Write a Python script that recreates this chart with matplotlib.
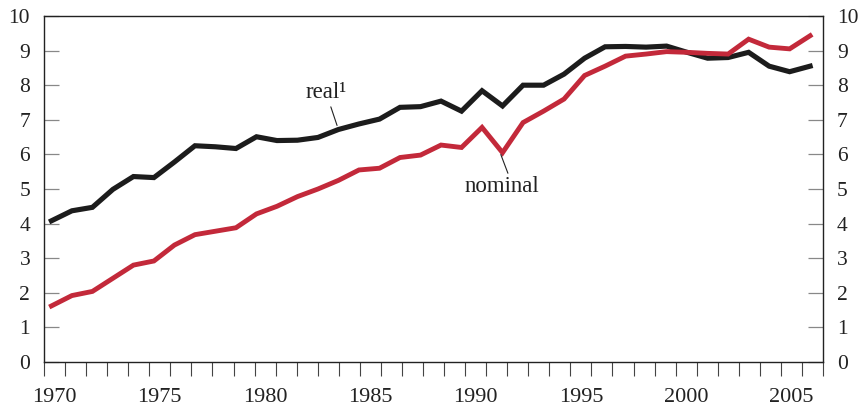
import matplotlib
matplotlib.use('Agg')
import matplotlib.pyplot as plt
import numpy as np

plt.rcParams['font.family'] = ['Liberation Serif', 'DejaVu Serif']

years = list(range(1970, 2008))
real = [4.08, 4.37, 4.47, 4.99, 5.36, 5.33, 5.78, 6.25, 6.22, 6.17,
        6.51, 6.40, 6.41, 6.49, 6.72, 6.88, 7.02, 7.36, 7.38, 7.54,
        7.25, 7.84, 7.40, 8.00, 8.00, 8.32, 8.78, 9.11, 9.12, 9.10,
        9.13, 8.95, 8.78, 8.80, 8.95, 8.55, 8.39, 8.55]
nominal = [1.62, 1.92, 2.04, 2.42, 2.80, 2.92, 3.38, 3.68, 3.78, 3.88,
           4.28, 4.50, 4.78, 5.00, 5.25, 5.55, 5.60, 5.91, 5.98, 6.27,
           6.20, 6.78, 6.05, 6.92, 7.25, 7.60, 8.28, 8.55, 8.84, 8.90,
           8.97, 8.95, 8.92, 8.90, 9.33, 9.10, 9.05, 9.43]
year_labels = [1970, 1975, 1980, 1985, 1990, 1995, 2000, 2005]

# points sit a little inside each year slot, slightly compressed
xpos = 1970.35 + (np.array(years) - 1970) * 0.974

fig = plt.figure(figsize=(8.6, 4.09), dpi=100)
ax = fig.add_axes([0.0512, 0.1149, 0.9058, 0.846])

ax.plot(xpos, real, color='#1c1c1c', lw=3.7, solid_joinstyle='miter')
ax.plot(xpos, nominal, color='#c3293a', lw=3.5, solid_joinstyle='miter')

ax.set_xlim(1970, 2007)
ax.set_ylim(0, 10)

ax.set_xticks(range(1970, 2008))
ax.set_xticklabels([])
ax.set_xticks([y + 0.5 for y in year_labels], minor=True)
ax.set_xticklabels([str(y) for y in year_labels], minor=True)
ax.tick_params(axis='x', which='major', direction='out', length=10,
               width=0.8, color='#444444')
ax.tick_params(axis='x', which='minor', length=0, pad=19, labelsize=16,
               labelcolor='#222222')

ax.set_yticks(range(0, 11))
ax.tick_params(axis='y', which='major', direction='in', length=10.8,
               width=0.9, color='#888888', left=True, right=True,
               labelleft=True, labelright=True, pad=10, labelsize=15.5,
               labelcolor='#222222')

for s in ax.spines.values():
    s.set_linewidth(1.0)
    s.set_color('#222222')

ax.text(1983.39, 7.80, 'real¹', fontsize=16.5, ha='center', va='center',
        color='#222222')
ax.annotate('', xy=(1983.96, 6.76), xytext=(1983.58, 7.45),
            arrowprops=dict(arrowstyle='-', lw=0.8, color='#222222'))
ax.text(1991.75, 5.06, 'nominal', fontsize=16.5, ha='center', va='center',
        color='#222222')
ax.annotate('', xy=(1991.65, 6.07), xytext=(1992.08, 5.38),
            arrowprops=dict(arrowstyle='-', lw=0.8, color='#222222'))

fig.savefig('out.png', dpi=100)
plt.close(fig)
